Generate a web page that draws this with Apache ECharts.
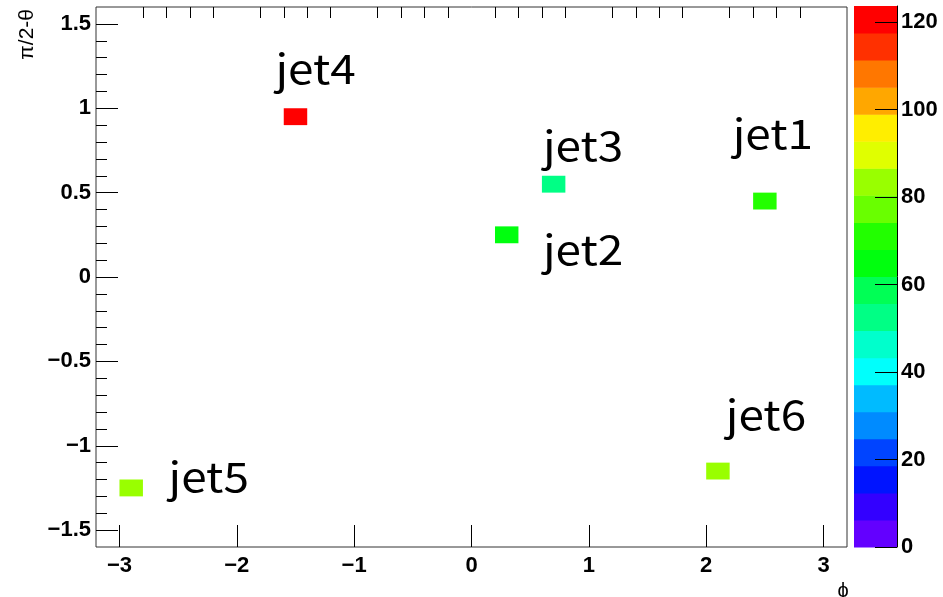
<!DOCTYPE html>
<html><head><meta charset="utf-8">
<script src="https://cdn.jsdelivr.net/npm/echarts@6/dist/echarts.min.js"></script>
<style>html,body{margin:0;padding:0;background:#fff}#c{width:943px;height:597px}</style>
</head><body><div id="c"></div>
<script>
// ---- data ----
const jetNames = ['jet1', 'jet2', 'jet3', 'jet4', 'jet5', 'jet6'];
const jetPhi = [2.5, 0.3, 0.7, -1.5, -2.9, 2.1];      // bin centres (phi)
const jetEta = [0.45, 0.25, 0.55, 0.95, -1.25, -1.15]; // bin centres (pi/2-theta)
const jetPt = [72, 66, 52, 123.7, 83, 84];             // cell content
const labelPhi = [2.226, 0.609, 0.609, -1.671, -2.582, 2.167];
const labelEta = [0.85, 0.162, 0.779, 1.236, -1.184, -0.816];
const xTickLabels = [-3, -2, -1, 0, 1, 2, 3];
const yTickLabels = [-1.5, -1, -0.5, 0, 0.5, 1, 1.5];
const zTickLabels = [0, 20, 40, 60, 80, 100, 120];
const xMinorTicks = [-2.8,-2.6,-2.4,-2.2,-1.8,-1.6,-1.4,-1.2,-0.8,-0.6,-0.4,-0.2,0.2,0.4,0.6,0.8,1.2,1.4,1.6,1.8,2.2,2.4,2.6,2.8];
const yMinorTicks = [-1.4,-1.3,-1.2,-1.1,-0.9,-0.8,-0.7,-0.6,-0.4,-0.3,-0.2,-0.1,0.1,0.2,0.3,0.4,0.6,0.7,0.8,0.9,1.1,1.2,1.3,1.4];
const binW = 0.2, binH = 0.1;
const zMax = 123.7, nLevels = 20;

// ROOT "pretty" palette (SetPalette(1)) mapped onto 20 contour levels
function levelColor(k) {
  const idx = Math.floor((k + 0.99) * 50 / nLevels);
  if (idx >= 49) return 'rgb(255,0,0)';
  const hue = 280 - (idx + 1) * 5.6;
  return 'hsl(' + hue + ',100%,50%)';
}
function valueColor(v) {
  let k = Math.floor(v / (zMax / nLevels));
  if (k > nLevels - 1) k = nLevels - 1;
  if (k < 0) k = 0;
  return levelColor(k);
}
const levels = [];
for (let k = 0; k < nLevels; k++) levels.push([k * zMax / nLevels, (k + 1) * zMax / nLevels, k]);

const minus = v => String(v).replace('-', '\u2212');
const tickFont = {fontFamily: 'Liberation Sans', fontWeight: 'bold', fontSize: 22, color: '#000'};
const noLine = {show: false, onZero: false};

const chart = echarts.init(document.getElementById('c'), null, {renderer: 'canvas'});
chart.setOption({
  backgroundColor: '#fff',
  animation: false,
  grid: [
    {left: 96, top: 7, width: 751, height: 540, show: true, borderColor: '#333', borderWidth: 1, backgroundColor: 'transparent'},
    {left: 854, top: 6, width: 43, height: 541}
  ],
  xAxis: [
    {gridIndex: 0, type: 'value', min: -3.2, max: 3.2,
     axisLine: noLine, splitLine: {show: false},
     axisTick: {show: true, inside: true, length: 22, customValues: xTickLabels, lineStyle: {color: '#000'}},
     axisLabel: Object.assign({show: true, margin: 8, customValues: xTickLabels, formatter: minus}, tickFont)},
    {gridIndex: 0, type: 'value', min: -3.2, max: 3.2,
     axisLine: noLine, splitLine: {show: false}, axisLabel: {show: false},
     axisTick: {show: true, inside: true, length: 11, customValues: xMinorTicks, lineStyle: {color: '#000'}}},
    {gridIndex: 1, type: 'value', min: 0, max: 1, show: false, axisLine: noLine}
  ],
  yAxis: [
    {gridIndex: 0, type: 'value', min: -1.6, max: 1.6,
     axisLine: noLine, splitLine: {show: false},
     axisTick: {show: true, inside: true, length: 22, customValues: yTickLabels, lineStyle: {color: '#000'}},
     axisLabel: Object.assign({show: true, margin: 5, customValues: yTickLabels, formatter: minus}, tickFont)},
    {gridIndex: 0, type: 'value', min: -1.6, max: 1.6, position: 'left',
     axisLine: noLine, splitLine: {show: false}, axisLabel: {show: false},
     axisTick: {show: true, inside: true, length: 11, customValues: yMinorTicks, lineStyle: {color: '#000'}}},
    {gridIndex: 1, type: 'value', min: 0, max: zMax, position: 'right', z: 10,
     axisLine: {show: true, onZero: false, lineStyle: {color: '#000', width: 1}}, splitLine: {show: false},
     axisTick: {show: true, inside: true, length: 22, customValues: zTickLabels, lineStyle: {color: '#000'}},
     axisLabel: Object.assign({show: true, margin: 4, customValues: zTickLabels}, tickFont)}
  ],
  graphic: [
    {type: 'text', x: 27, y: 9, rotation: Math.PI / 2,
     style: {text: 'π/2-θ', font: '21px "Liberation Sans"', fill: '#000', textAlign: 'right', textVerticalAlign: 'middle'}},
    {type: 'text', x: 843, y: 591,
     style: {text: 'ϕ', font: '20px "Liberation Sans"', fill: '#000', textAlign: 'center', textVerticalAlign: 'middle'}}
  ],
  series: [
    {type: 'custom', xAxisIndex: 0, yAxisIndex: 0, clip: true,
     data: jetPhi.map((x, i) => [x, jetEta[i], jetPt[i]]),
     renderItem: function (params, api) {
       const c = api.coord([api.value(0) - binW / 2, api.value(1) + binH / 2]);
       const s = api.size([binW, binH]);
       return {type: 'rect', shape: {x: c[0], y: c[1], width: s[0], height: s[1]},
               style: {fill: valueColor(api.value(2))}};
     }},
    {type: 'custom', xAxisIndex: 2, yAxisIndex: 2, z: 1,
     data: levels,
     renderItem: function (params, api) {
       const p0 = api.coord([0, api.value(1)]);
       const p1 = api.coord([1, api.value(0)]);
       return {type: 'rect', shape: {x: p0[0], y: p0[1], width: p1[0] - p0[0], height: p1[1] - p0[1] + 0.5},
               style: {fill: levelColor(api.value(2))}};
     }},
    {type: 'custom', xAxisIndex: 0, yAxisIndex: 0, clip: false,
     data: labelPhi.map((x, i) => [x, labelEta[i], i]),
     renderItem: function (params, api) {
       const p = api.coord([api.value(0), api.value(1)]);
       return {type: 'text', x: p[0], y: p[1], scaleX: 1.12, scaleY: 1,
               style: {text: jetNames[api.value(2)], font: '41px "Noto Sans CJK JP"', fill: '#000',
                       align: 'left', verticalAlign: 'middle'}};
     }}
  ]
});
</script>
</body></html>
